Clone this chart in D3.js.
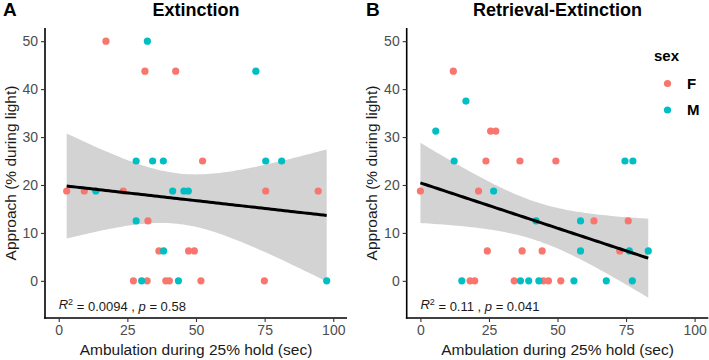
<!DOCTYPE html>
<html><head><meta charset="utf-8">
<script src="https://cdn.jsdelivr.net/npm/d3@7"></script>
<style>body{margin:0;background:#fff}text{font-family:"Liberation Sans",Arial,sans-serif}</style>
</head><body><svg id="c" width="709" height="360"></svg>
<script>
// Panel A: Extinction
const extF_x = [17.2,31.4,42.6,52.4,2.9,9.3,23.5,75.4,94.5,32.5,36.5,47.3,49.4,27.2,32.2,39.0,40.3,51.8,74.9];
const extF_y = [50,43.75,43.75,25,18.75,18.75,18.75,18.75,18.75,12.5,6.25,6.25,6.25,0,0,0,0,0,0];
const extM_x = [32.3,71.8,28.2,34.2,38.1,75.4,81.2,13.5,41.5,45.6,47.2,28.2,38.2,30.2,43.6,97.6];
const extM_y = [50,43.75,25,25,25,25,25,18.75,18.75,18.75,18.75,12.5,6.25,0,0,0];
// Panel B: Retrieval-Extinction
const retF_x = [12.0,25.6,27.5,23.9,36.3,49.4,0,21.2,63.3,75.8,24.4,37.1,44.4,72.7,18.1,19.8,34.2,44.8,46.7,51.2];
const retF_y = [43.75,31.25,31.25,25,25,25,18.75,18.75,12.5,12.5,6.25,6.25,6.25,6.25,0,0,0,0,0,0];
const retM_x = [16.6,5.6,12.3,74.6,77.5,26.7,42.2,58.4,58.4,76.2,83.1,15.1,36.5,39.5,43.2,56.0,67.8,77.3];
const retM_y = [37.5,31.25,25,25,25,18.75,12.5,12.5,6.25,6.25,6.25,0,0,0,0,0,0,0];

const xTicks = [0,25,50,75,100];
const yTicks = [0,10,20,30,40,50];
const sexes = ["F","M"];
const colors = {F:"#F8766D", M:"#00BFC4"};
const titles = ["Extinction","Retrieval-Extinction"];
const tags = ["A","B"];
const r2Text = ["0.0094","0.11"];
const pText = ["0.58","0.041"];
const tCrit = [2.032, 2.028];

const panels = [
  {F:[extF_x,extF_y], M:[extM_x,extM_y]},
  {F:[retF_x,retF_y], M:[retM_x,retM_y]}
];
const layout = [{x0:45,x1:347,tagX:3,ylabX:11},{x0:406.7,x1:708.3,tagX:366,ylabX:372}];
const yTop = 28, yBot = 318;

const svg = d3.select("#c");

panels.forEach((pd,i)=>{
  const L = layout[i];
  const x = d3.scaleLinear().domain([-5,105]).range([L.x0,L.x1]);
  const y = d3.scaleLinear().domain([-7.75,52.75]).range([yBot,yTop]);
  const g = svg.append("g");

  const pts = [];
  sexes.forEach(s=>{ pd[s][0].forEach((v,k)=>pts.push({x:v,y:pd[s][1][k],s})); });
  const n = pts.length;
  const mx = d3.mean(pts,d=>d.x), my = d3.mean(pts,d=>d.y);
  const sxx = d3.sum(pts,d=>(d.x-mx)**2);
  const sxy = d3.sum(pts,d=>(d.x-mx)*(d.y-my));
  const b = sxy/sxx, a = my-b*mx;
  const sse = d3.sum(pts,d=>(d.y-a-b*d.x)**2);
  const se = Math.sqrt(sse/(n-2));
  const [xmin,xmax] = d3.extent(pts,d=>d.x);
  const grid = d3.range(0,81).map(k=>xmin+(xmax-xmin)*k/80);
  const band = grid.map(xv=>{
    const fit=a+b*xv, h=tCrit[i]*se*Math.sqrt(1/n+(xv-mx)**2/sxx);
    return {x:xv,lo:fit-h,hi:fit+h,fit};
  });

  g.append("path").datum(band)
    .attr("d",d3.area().x(d=>x(d.x)).y0(d=>y(d.lo)).y1(d=>y(d.hi)))
    .attr("fill","#d3d3d3");

  g.selectAll("circle").data(pts).join("circle")
    .attr("cx",d=>x(d.x)).attr("cy",d=>y(d.y)).attr("r",3.6)
    .attr("fill",d=>colors[d.s]);

  g.append("path").datum(band)
    .attr("d",d3.line().x(d=>x(d.x)).y(d=>y(d.fit)))
    .attr("fill","none").attr("stroke","#000").attr("stroke-width",3);

  const ax = g.append("g").attr("transform",`translate(0,${yBot})`)
    .call(d3.axisBottom(x).tickValues(xTicks).tickSize(4).tickPadding(3).tickSizeOuter(0));
  const ay = g.append("g").attr("transform",`translate(${L.x0},0)`)
    .call(d3.axisLeft(y).tickValues(yTicks).tickSize(4).tickPadding(3).tickSizeOuter(0));
  [ax,ay].forEach(a0=>{
    a0.select(".domain").attr("stroke","#000").attr("stroke-width",1.6);
    a0.selectAll(".tick line").attr("stroke","#333").attr("stroke-width",1.1);
    a0.selectAll(".tick text").attr("fill","#4d4d4d").style("font-size","14px")
      .style("font-family","'Liberation Sans',Arial,sans-serif");
  });
  ay.select(".domain").attr("d",`M0,${yTop}V${yBot+0.8}`);
  ax.select(".domain").attr("d",`M${L.x0-0.8},0H${L.x1}`);

  const t = g.append("text").attr("x",x(0)).attr("y",y(-5)).attr("dy","0.35em")
    .style("font-size","13px").attr("fill","#1a1a1a");
  t.append("tspan").style("font-style","italic").text("R");
  t.append("tspan").attr("dy","-0.45em").style("font-size","9px").text("2");
  t.append("tspan").attr("dy","0.45em").text(" = "+r2Text[i]+" , ");
  t.append("tspan").style("font-style","italic").text("p");
  t.append("tspan").text(" = "+pText[i]);

  g.append("text").attr("x",(L.x0+L.x1)/2).attr("y",16).attr("text-anchor","middle")
    .style("font-size","18px").style("font-weight","bold").text(titles[i]);
  g.append("text").attr("x",L.tagX).attr("y",16)
    .style("font-size","19px").style("font-weight","bold").text(tags[i]);
  g.append("text").attr("x",(L.x0+L.x1)/2).attr("y",355).attr("text-anchor","middle")
    .style("font-size","15.5px").attr("fill","#1a1a1a").text("Ambulation during 25% hold (sec)");
  g.append("text").attr("transform",`translate(${L.ylabX},${(yTop+yBot)/2}) rotate(-90)`)
    .attr("text-anchor","middle").attr("dy","0.35em")
    .style("font-size","15.5px").attr("fill","#1a1a1a").text("Approach (% during light)");
});

const lg = svg.append("g");
lg.append("text").attr("x",654).attr("y",61).style("font-size","15px").style("font-weight","bold").text("sex");
sexes.forEach((s,k)=>{
  lg.append("circle").attr("cx",667.5).attr("cy",83.5+k*26.5).attr("r",3.6).attr("fill",colors[s]);
  lg.append("text").attr("x",687).attr("y",83.5+k*26.5).attr("dy","0.35em")
    .style("font-size","15px").style("font-weight","bold").text(s);
});
</script></body></html>
